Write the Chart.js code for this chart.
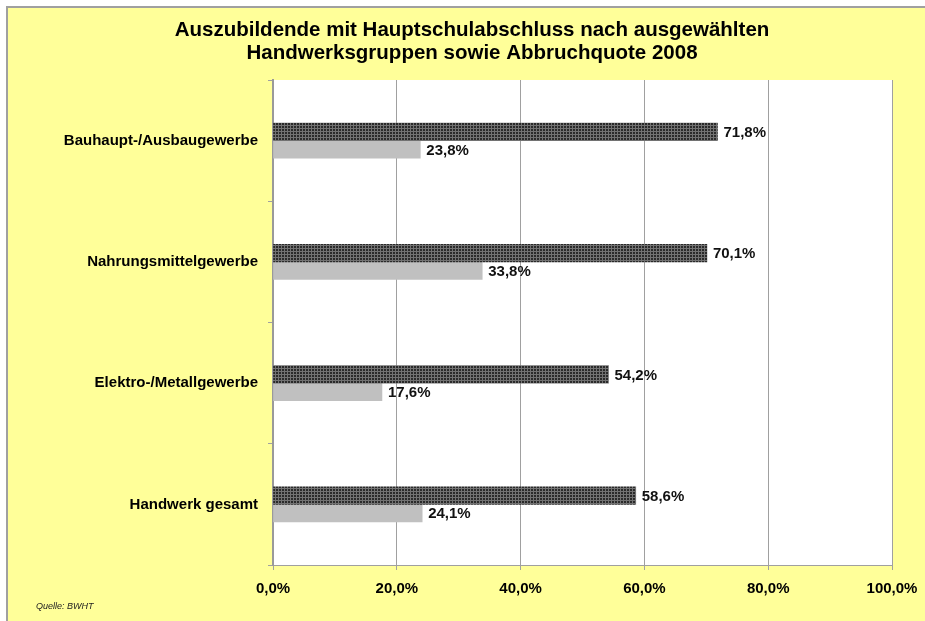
<!DOCTYPE html>
<html>
<head>
<meta charset="utf-8">
<script src="https://cdn.jsdelivr.net/npm/chart.js@4.4.1/dist/chart.umd.min.js"></script>
<style>
    html, body { margin: 0; padding: 0; background: #fff; }
    #frame {
        position: absolute; left: 6px; top: 6px; width: 919px; height: 615px;
        border-top: 2px solid #a0a0a0; border-left: 2px solid #a0a0a0;
        background: #ffff99;
    }
    #chart { position: absolute; left: 0; top: 0; }
    #source {
        position: absolute; left: 36px; top: 601px;
        font: italic 9px "Liberation Sans", Arial, sans-serif; color: #222;
    }
</style>
</head>
<body>
<div id="frame"></div>
<canvas id="chart" width="925" height="621"></canvas>
<div id="source">Quelle: BWHT</div>
<script>
const titleLines = ['Auszubildende mit Hauptschulabschluss nach ausgewählten', 'Handwerksgruppen sowie Abbruchquote 2008'];
const categories = ['Bauhaupt-/Ausbaugewerbe', 'Nahrungsmittelgewerbe', 'Elektro-/Metallgewerbe', 'Handwerk gesamt'];
const shareHauptschule = [71.8, 70.1, 54.2, 58.6];
const dropoutRate = [23.8, 33.8, 17.6, 24.1];
const seriesNames = ['Anteil Hauptschulabschluss', 'Abbruchquote'];

const fontFamily = '"Liberation Sans", Arial, sans-serif';
const fmt = v => v.toFixed(1).replace('.', ',') + '%';

function makePattern() {
    const p = document.createElement('canvas');
    p.width = 3;
    p.height = 3;
    const c = p.getContext('2d');
    c.fillStyle = '#2a2a2a';
    c.fillRect(0, 0, 3, 3);
    c.fillStyle = '#727272';
    c.fillRect(0, 2, 3, 1);
    c.fillRect(2, 0, 1, 3);
    return document.getElementById('chart').getContext('2d').createPattern(p, 'repeat');
}

const plotBackground = {
    id: 'plotBackground',
    beforeDraw(chart) {
        const { ctx, chartArea: a } = chart;
        ctx.save();
        ctx.fillStyle = '#ffffff';
        ctx.fillRect(a.left, a.top, a.right - a.left, a.bottom - a.top);
        ctx.restore();
    }
};

const headline = {
    id: 'headline',
    afterDraw(chart) {
        const ctx = chart.ctx;
        ctx.save();
        ctx.fillStyle = '#000';
        ctx.font = 'bold 20.5px ' + fontFamily;
        ctx.textAlign = 'center';
        ctx.textBaseline = 'middle';
        titleLines.forEach((line, i) => ctx.fillText(line, 472, 30 + i * 23));
        ctx.restore();
    }
};

const valueLabels = {
    id: 'valueLabels',
    afterDatasetsDraw(chart) {
        const ctx = chart.ctx;
        ctx.save();
        ctx.fillStyle = '#111';
        ctx.font = 'bold 15px ' + fontFamily;
        ctx.textAlign = 'left';
        ctx.textBaseline = 'middle';
        chart.data.datasets.forEach((ds, di) => {
            chart.getDatasetMeta(di).data.forEach((bar, i) => {
                ctx.fillText(fmt(ds.data[i]), bar.x + 6, bar.y + 1);
            });
        });
        ctx.restore();
    }
};

new Chart(document.getElementById('chart'), {
    type: 'bar',
    data: {
        labels: categories,
        datasets: [
            { label: seriesNames[0], data: shareHauptschule, backgroundColor: makePattern(), barThickness: 17.5 },
            { label: seriesNames[1], data: dropoutRate, backgroundColor: '#c0c0c0', barThickness: 17.5 }
        ]
    },
    options: {
        indexAxis: 'y',
        responsive: false,
        animation: false,
        layout: { padding: { top: 80, right: 33, bottom: 0, left: 0 } },
        plugins: {
            legend: { display: false },
            tooltip: { enabled: false }
        },
        scales: {
            x: {
                min: 0,
                max: 100,
                ticks: {
                    stepSize: 20,
                    color: '#000',
                    padding: 10,
                    font: { family: fontFamily, size: 15, weight: 'bold' },
                    callback: v => fmt(v)
                },
                grid: { color: '#a0a0a0', lineWidth: 1, tickLength: 5 },
                border: { color: '#a0a0a0', width: 1 },
                afterFit: scale => {
                    scale.height = 56;
                    scale.paddingLeft = 0;
                    scale.paddingRight = 0;
                }
            },
            y: {
                ticks: {
                    color: '#000',
                    padding: 10,
                    font: { family: fontFamily, size: 15, weight: 'bold' }
                },
                grid: { drawOnChartArea: false, offset: true, color: '#a0a0a0', tickLength: 5 },
                border: { color: '#9a9a9a', width: 2 },
                afterFit: scale => { scale.width = 273; }
            }
        }
    },
    plugins: [plotBackground, headline, valueLabels]
});
</script>
</body>
</html>
